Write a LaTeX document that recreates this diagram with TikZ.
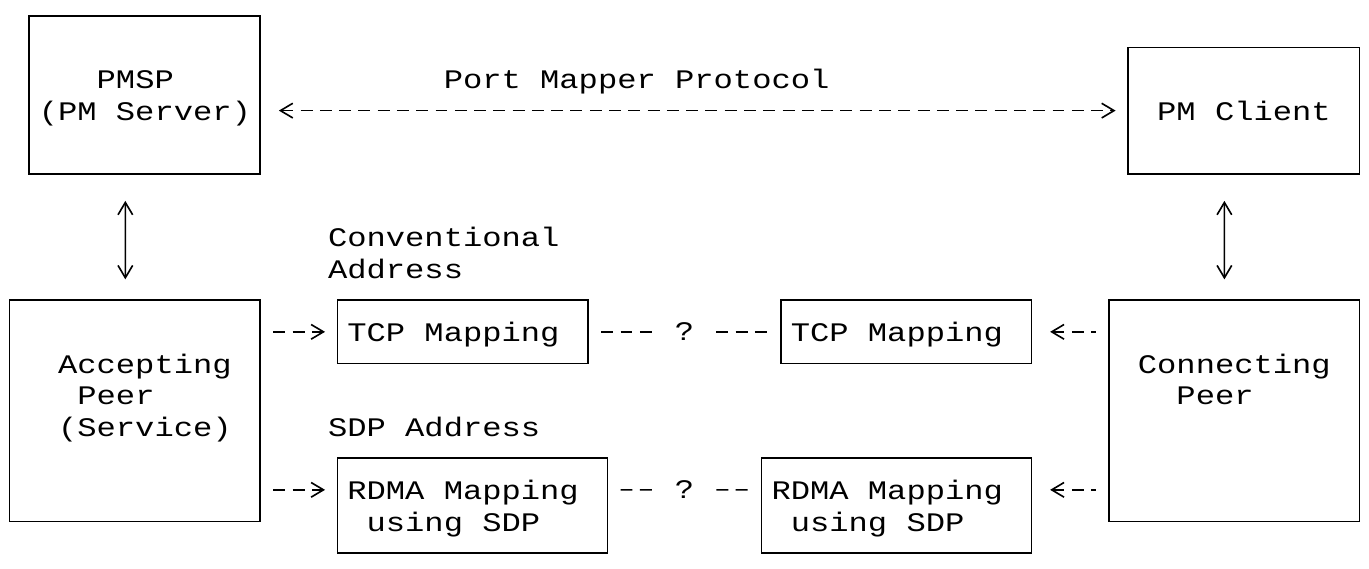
\documentclass[tikz,border=0pt]{standalone}
\usepackage{fontspec}
\setmonofont[FakeStretch=1.2]{Liberation Mono}
\usetikzlibrary{arrows.meta}

\newcommand{\diagfont}{\ttfamily\fontsize{19.76}{23.23}\selectfont}

\tikzset{
  box/.style={draw, line width=1.2pt, inner sep=0pt},
  txt/.style={font=\diagfont, inner sep=0pt, anchor=base west, align=left},
  qmark/.style={font=\diagfont, inner sep=0pt, minimum width=1cm},
  conn/.style={line width=1.2pt, dash pattern=on 0.31cm off 0.19cm,
    shorten <=0.32cm, shorten >=0.3cm},
  vconn/.style={line width=1.2pt, <->, shorten <=0.68cm, shorten >=0.52cm},
  >={Straight Barb[length=0.32cm,width=0.38cm]}
}

\begin{document}
\begin{tikzpicture}[x=0.5cm, y=-0.8195cm]
  \fill[white] (0,0) rectangle (71,18);
  \useasboundingbox (0,0) rectangle (71,18);

  % Port mapper boxes
  \node[box, minimum width=6cm, minimum height=4.0975cm] (pmsp) at (7.5,3) {};
  \node[box, minimum width=6cm, minimum height=3.278cm] (client) at (64.5,3.5) {};
  \node[txt] (pmsp-txt) at (2,3.81) {\hphantom{(PM}PMSP\\(PM Server)};
  \node[txt] (client-txt) at (60,3.81) {PM Client};

  % Peers
  \node[box, minimum width=6.5cm, minimum height=5.7365cm] (accept) at (7,13) {};
  \node[box, minimum width=6.5cm, minimum height=5.7365cm] (connect) at (64,13) {};
  \node[txt] (accept-txt) at (3,13.81) {Accepting\\\hphantom{A}Peer\\(Service)};
  \node[txt] (connect-txt) at (59,12.81) {Connecting\\\hphantom{Co}Peer};

  % Mapping boxes
  \node[box, minimum width=6.5cm, minimum height=1.639cm] (tcpA) at (24,10.5) {};
  \node[box, minimum width=6.5cm, minimum height=1.639cm] (tcpB) at (47,10.5) {};
  \node[box, minimum width=7cm, minimum height=2.4585cm] (rdmaA) at (24.5,16) {};
  \node[box, minimum width=7cm, minimum height=2.4585cm] (rdmaB) at (46.5,16) {};
  \node[txt] (tcpA-txt) at (18,10.81) {TCP Mapping};
  \node[txt] (tcpB-txt) at (41,10.81) {TCP Mapping};
  \node[txt] (rdmaA-txt) at (18,16.81) {RDMA Mapping\\\hphantom{R}using SDP};
  \node[txt] (rdmaB-txt) at (40,16.81) {RDMA Mapping\\\hphantom{R}using SDP};

  % Address labels
  \node[txt] (conv-lbl) at (17,8.81) {Conventional\\Address};
  \node[txt] (sdp-lbl) at (17,13.81) {SDP Address};
  \node[txt] (pmp-lbl) at (23,2.81) {Port Mapper Protocol};

  % Question marks
  \node[qmark] (qtcp) at (35.5,10.5) {?};
  \node[qmark] (qrdma) at (35.5,15.5) {?};

  % Port mapper protocol
  \draw[conn, <->, shorten <=0.46cm] (client.west -| pmsp.east) -- (client.west);

  % Vertical links
  \draw[vconn] ([xshift=-0.5cm]pmsp.south) -- ([xshift=-0.25cm]accept.north);
  \draw[vconn] ([xshift=-0.5cm]client.south) -- ([xshift=-0.25cm]connect.north);

  % TCP row
  \draw[conn, ->] (tcpA.west -| accept.east) -- (tcpA.west);
  \draw[conn] (tcpA.east) -- (qtcp.west);
  \draw[conn] (qtcp.east) -- (tcpB.west);
  \draw[conn, <-, shorten <=0.46cm] (tcpB.east) -- (tcpB.east -| connect.west);

  % RDMA row
  \draw[conn, ->] ([yshift=0.41cm]rdmaA.west -| accept.east) -- ([yshift=0.41cm]rdmaA.west);
  \draw[conn] ([yshift=0.41cm]rdmaA.east) -- (qrdma.west);
  \draw[conn] (qrdma.east) -- ([yshift=0.41cm]rdmaB.west);
  \draw[conn, <-, shorten <=0.46cm] ([yshift=0.41cm]rdmaB.east) -- ([yshift=0.41cm]rdmaB.east -| connect.west);
\end{tikzpicture}
\end{document}
